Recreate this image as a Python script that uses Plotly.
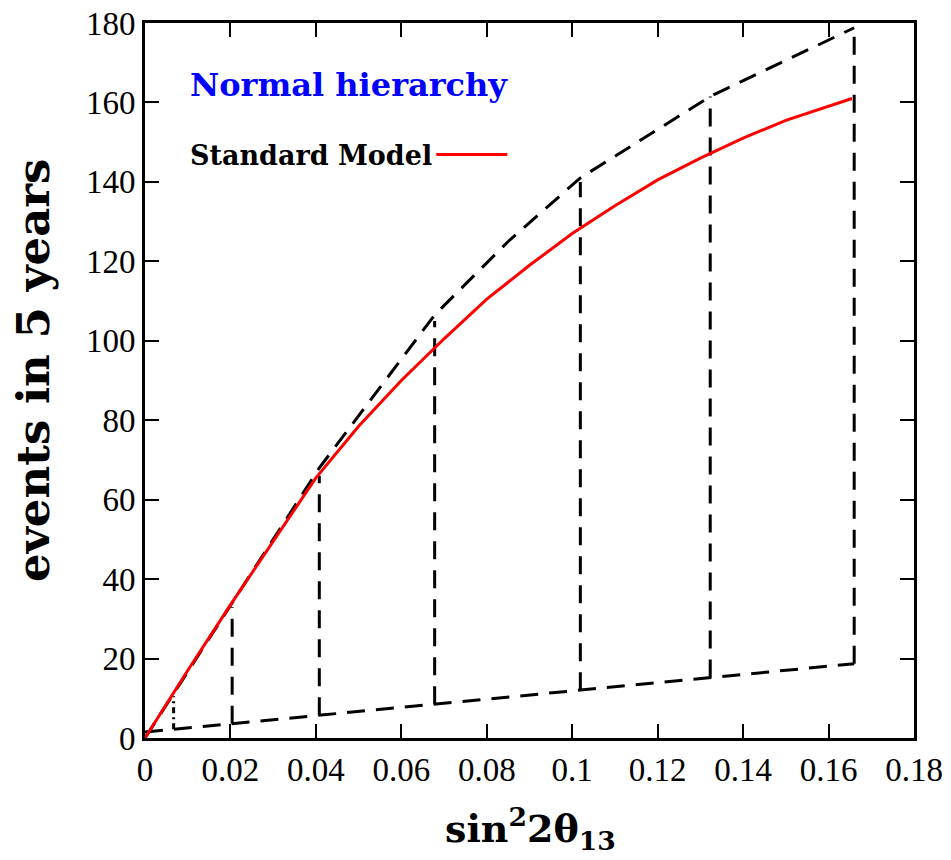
import plotly.graph_objects as go

# ---- data ----
sm_x = [0.0, 0.01, 0.02, 0.03, 0.04, 0.05, 0.06, 0.07, 0.08, 0.09, 0.10, 0.11, 0.12, 0.13, 0.14, 0.15, 0.1655]
sm_y = [0.0, 17.0, 33.5, 49.5, 65.5, 78.5, 90.0, 100.5, 110.5, 119.0, 127.0, 134.0, 140.5, 146.0, 151.0, 155.5, 161.0]

upper_x = [0.0, 0.0204, 0.0408, 0.0678, 0.085, 0.1019, 0.1323, 0.166]
upper_y = [0.0, 34.0, 68.0, 106.5, 125.0, 141.0, 161.5, 178.8]

lower_x = [0.0, 0.166]
lower_y = [1.5, 18.7]

vert_x = [0.0204, 0.0408, 0.0678, 0.1019, 0.1323, 0.166]
vert_bottom = [3.6, 5.7, 8.5, 12.0, 15.2, 18.7]
vert_top = [33.0, 66.0, 105.0, 140.0, 161.5, 178.8]

small_x = [0.0067]
small_bottom = [2.2]
small_top = [10.5]

x_ticks = [0, 0.02, 0.04, 0.06, 0.08, 0.1, 0.12, 0.14, 0.16, 0.18]
x_tick_text = ["0", "0.02", "0.04", "0.06", "0.08", "0.1", "0.12", "0.14", "0.16", "0.18"]
y_ticks = [0, 20, 40, 60, 80, 100, 120, 140, 160, 180]

DASH = "18px,11px"

fig = go.Figure()

fig.add_trace(go.Scatter(x=upper_x, y=upper_y, mode="lines",
                         line=dict(color="black", width=3, dash=DASH), showlegend=False))
fig.add_trace(go.Scatter(x=lower_x, y=lower_y, mode="lines",
                         line=dict(color="black", width=3, dash=DASH), showlegend=False))

vx, vy = [], []
for x, b, t in zip(vert_x, vert_bottom, vert_top):
    vx += [x, x, None]
    vy += [b, t, None]
fig.add_trace(go.Scatter(x=vx, y=vy, mode="lines",
                         line=dict(color="black", width=3, dash=DASH), showlegend=False))

sx, sy = [], []
for x, b, t in zip(small_x, small_bottom, small_top):
    sx += [x, x, None]
    sy += [b, t, None]
fig.add_trace(go.Scatter(x=sx, y=sy, mode="lines",
                         line=dict(color="black", width=3, dash="6px,4px,2px,4px"), showlegend=False))

fig.add_trace(go.Scatter(x=sm_x, y=sm_y, mode="lines",
                         line=dict(color="#ff0000", width=3), showlegend=False))

SERIF = "Liberation Serif, Times New Roman, serif"
axis_common = dict(showline=True, linecolor="black", linewidth=3, mirror="ticks",
                   ticks="inside", ticklen=14, tickwidth=2, tickcolor="black",
                   showgrid=False, zeroline=False, automargin=False,
                   tickfont=dict(family=SERIF, size=33, color="black"))

fig.update_xaxes(range=[0, 0.18], tickvals=x_ticks, ticktext=x_tick_text, **axis_common)
fig.update_yaxes(range=[0, 180], tickvals=y_ticks, **axis_common)

fig.add_annotation(text="<b>Normal hierarchy</b>", xref="paper", yref="paper",
                   x=0.0565, y=0.9126, xanchor="left", yanchor="middle", showarrow=False,
                   font=dict(family="DejaVu Serif", size=32, color="#0000ff"))
fig.add_annotation(text="<b>Standard Model</b>", xref="paper", yref="paper",
                   x=0.0565, y=0.815, xanchor="left", yanchor="middle", showarrow=False,
                   font=dict(family="DejaVu Serif", size=27, color="black"))
fig.add_shape(type="line", xref="paper", yref="paper", x0=0.3788, x1=0.4711, y0=0.816, y1=0.816,
              line=dict(color="#ff0000", width=3))

fig.add_annotation(text="<b>events in 5 years</b>", xref="paper", yref="paper",
                   x=-0.145, y=0.514, xanchor="center", yanchor="middle", showarrow=False,
                   textangle=-90, font=dict(family="DejaVu Serif", size=45, color="black"))
fig.add_annotation(text="<b>sin<sup>2</sup>2θ<sub>13</sub></b>", xref="paper", yref="paper",
                   x=0.501, y=-0.126, xanchor="center", yanchor="middle", showarrow=False,
                   font=dict(family="DejaVu Serif", size=38, color="black"))

fig.update_layout(width=951, height=860,
                  margin=dict(l=144.5, r=37, t=22.5, b=122),
                  paper_bgcolor="white", plot_bgcolor="white")

fig.write_html("out.html")
